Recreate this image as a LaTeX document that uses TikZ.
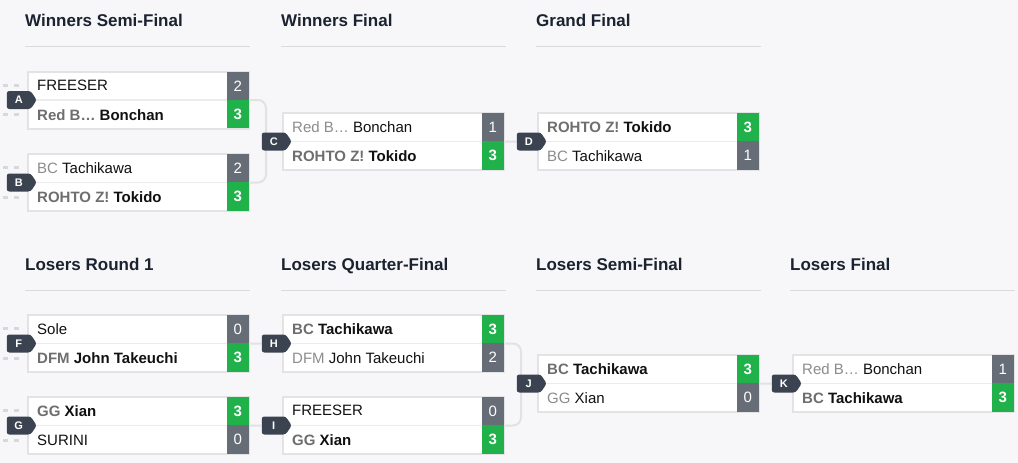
\documentclass[tikz,border=0pt]{standalone}
\usepackage{fontspec}
\setmainfont{Liberation Sans}
\usetikzlibrary{shapes.symbols,calc,backgrounds}

\definecolor{pagebg}{HTML}{F7F7F9}
\definecolor{boxline}{HTML}{E3E3E6}
\definecolor{rowline}{HTML}{EBEBED}
\definecolor{wingreen}{HTML}{21B14B}
\definecolor{lossgray}{HTML}{676D77}
\definecolor{namecol}{HTML}{111111}
\definecolor{tagwon}{HTML}{6E6E6E}
\definecolor{taglost}{HTML}{8C8C8C}
\definecolor{badgecol}{HTML}{3B4250}
\definecolor{headcol}{HTML}{1B2230}
\definecolor{rulecol}{HTML}{DADADD}
\definecolor{linkcol}{HTML}{E2E2E5}
\definecolor{stubcol}{HTML}{D6D8DC}
\colorlet{tagcol}{taglost}

\tikzset{
  matchbox/.style={rectangle, draw=boxline, line width=2pt, fill=white, minimum width=221pt, minimum height=57pt, anchor=north west, inner sep=0pt},
  sepline/.style={draw=rowline, line width=1.5pt},
  scorebox/.style={rectangle, minimum width=22pt, minimum height=28.5pt, inner sep=0pt, text=white},
  wonscore/.style={scorebox, fill=wingreen, font=\fontsize{15}{18}\selectfont\bfseries},
  lostscore/.style={scorebox, fill=lossgray, font=\fontsize{15}{18}\selectfont},
  playername/.style={anchor=west, inner sep=0pt, text=namecol},
  wonname/.style={playername, font=\fontsize{15}{18}\selectfont\bfseries, execute at begin node=\colorlet{tagcol}{tagwon}},
  lostname/.style={playername, font=\fontsize{15}{18}\selectfont, execute at begin node=\colorlet{tagcol}{taglost}},
  badge/.style={signal, signal to=east, signal pointer angle=112, fill=badgecol, text=white, font=\fontsize{11}{13}\selectfont\bfseries, minimum width=30pt, minimum height=18pt, inner sep=0pt, rounded corners=2.5pt, anchor=east},
  header/.style={anchor=base west, inner sep=0pt, text=headcol, font=\fontsize{17}{20}\selectfont\bfseries},
  headrule/.style={draw=rulecol, line width=1pt},
  link/.style={draw=linkcol, line width=2pt},
  stub/.style={draw=stubcol, line width=3pt, dash pattern=on 5pt off 6pt},
}

% team tag in grey, then the player
\newcommand{\tagged}[2]{\if\relax\detokenize{#1}\relax#2\else{\color{tagcol}#1} #2\fi}

% one match: letter, x, y, top tag, top player, top score, bottom tag, bottom player, bottom score
\newcommand{\duel}[9]{%
  \ifnum#6>#9\relax
    \tikzset{topscore/.style={wonscore}, topname/.style={wonname}, botscore/.style={lostscore}, botname/.style={lostname}}%
  \else
    \tikzset{topscore/.style={lostscore}, topname/.style={lostname}, botscore/.style={wonscore}, botname/.style={wonname}}%
  \fi
  \node[matchbox] (m#1) at (#2+1,#3+1) {};
  \draw[sepline] (m#1.west) -- (m#1.east);
  \node[topscore, anchor=north east] (s#1a) at ($(m#1.north east)+(-1,1)$) {#6};
  \node[botscore, anchor=south east] (s#1b) at ($(m#1.south east)+(-1,-1)$) {#9};
  \node[topname] (p#1a) at ($(m#1.west)+(10,-14.75)$) {\tagged{#4}{#5}};
  \node[botname] (p#1b) at ($(m#1.west)+(10,14.75)$) {\tagged{#7}{#8}};
  \node[badge] (b#1) at ($(m#1.west)+(10,0)$) {#1};
}

\begin{document}
\begin{tikzpicture}[x=1pt, y=-1pt]
  \useasboundingbox (0,0) rectangle (1018,463);

  % column headings
  \node[header] (hWS) at (25,26) {Winners Semi-Final};
  \node[header] (hWF) at (281,26) {Winners Final};
  \node[header] (hGF) at (536,26) {Grand Final};
  \node[header] (hLR) at (25,270) {Losers Round 1};
  \node[header] (hLQ) at (281,270) {Losers Quarter-Final};
  \node[header] (hLS) at (536,270) {Losers Semi-Final};
  \node[header] (hLF) at (790,270) {Losers Final};
  \foreach \h in {hWS,hWF,hGF,hLR,hLQ,hLS,hLF}
    \draw[headrule] ($(\h.base west)+(0,20)$) -- ++(225,0);

  % winners side
  \duel{A}{26}{69.5}{}{FREESER}{2}{Red B…}{Bonchan}{3}
  \duel{B}{26}{152}{BC}{Tachikawa}{2}{ROHTO Z!}{Tokido}{3}
  \duel{C}{281}{111}{Red B…}{Bonchan}{1}{ROHTO Z!}{Tokido}{3}
  \duel{D}{536}{111}{ROHTO Z!}{Tokido}{3}{BC}{Tachikawa}{1}

  % losers side
  \duel{F}{26}{313}{}{Sole}{0}{DFM}{John Takeuchi}{3}
  \duel{G}{26}{395}{GG}{Xian}{3}{}{SURINI}{0}
  \duel{H}{281}{313}{BC}{Tachikawa}{3}{DFM}{John Takeuchi}{2}
  \duel{I}{281}{395}{}{FREESER}{0}{GG}{Xian}{3}
  \duel{J}{536}{353}{BC}{Tachikawa}{3}{GG}{Xian}{0}
  \duel{K}{791}{353}{Red B…}{Bonchan}{1}{BC}{Tachikawa}{3}

  \begin{scope}[on background layer]
    \fill[pagebg] (0,0) rectangle (1018,463);
    % stubs in front of the first round
    \foreach \m in {A,B,F,G} {
      \coordinate (up\m) at ($(m\m.west)+(0,-15)$);
      \coordinate (dn\m) at ($(m\m.west)+(0,14.5)$);
      \draw[stub] (up\m -| 3,0) -- (up\m -| 22,0);
      \draw[stub] (dn\m -| 3,0) -- (dn\m -| 22,0);
    }
    \draw[link, rounded corners=8pt] (mA.east) -- ++(16,0) |- (mB.east);
    \draw[link] (mC.east) -- (bD);
    \draw[link] (mF.east) -- (bH);
    \draw[link] (mG.east) -- (bI);
    \draw[link, rounded corners=8pt] (mH.east) -- ++(16,0) |- (mI.east);
    \draw[link] (mJ.east) -- (bK);
  \end{scope}
\end{tikzpicture}
\end{document}
